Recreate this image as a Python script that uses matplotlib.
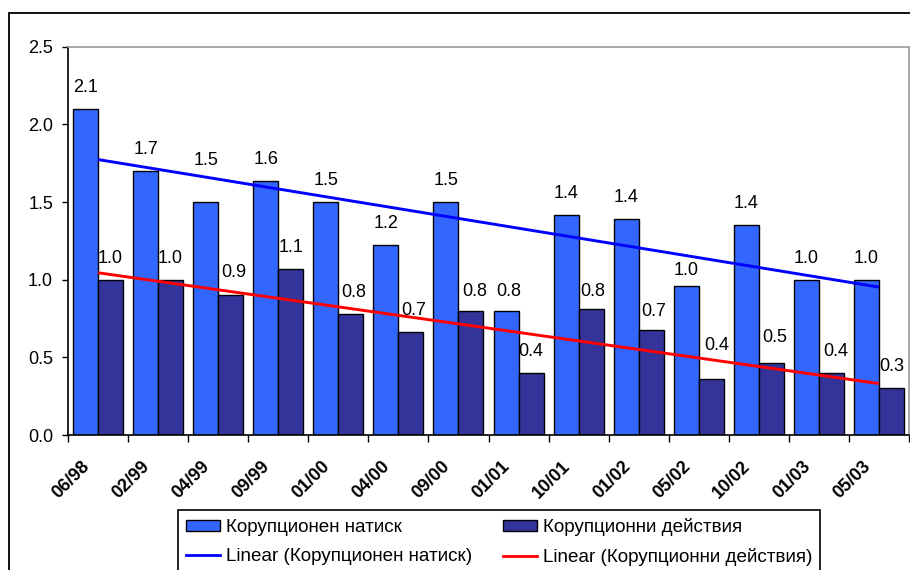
import numpy as np
import matplotlib
matplotlib.use("Agg")
import matplotlib.pyplot as plt
from matplotlib.patches import Rectangle, Patch
from matplotlib.lines import Line2D
import matplotlib.transforms as mtransforms

plt.rcParams['font.family'] = ['Liberation Sans', 'DejaVu Sans']

categories = ["06/98", "02/99", "04/99", "09/99", "01/00", "04/00", "09/00",
              "01/01", "10/01", "01/02", "05/02", "10/02", "01/03", "05/03"]
pressure = [2.10, 1.70, 1.50, 1.635, 1.50, 1.226, 1.50, 0.80, 1.418, 1.39, 0.96, 1.351, 1.00, 1.00]
actions = [1.00, 1.00, 0.90, 1.067, 0.78, 0.666, 0.80, 0.40, 0.81, 0.674, 0.363, 0.466, 0.40, 0.305]
name_p = "Корупционен натиск"
name_a = "Корупционни действия"

# manual nudges of some data labels (pixels: dx, dy upward), as in the original
nudge_p = {2: (0, 20), 7: (3, -2), 10: (0, -6)}
nudge_a = {2: (3, 1), 4: (3, 0), 5: (3, 0), 6: (4, -2), 8: (2, -4), 9: (3, -3),
           10: (6, 12), 11: (3, 4), 12: (4, 0)}

W, H = 910, 570
fig = plt.figure(figsize=(W / 100, H / 100), dpi=100)
ax = fig.add_axes([68 / W, 1 - 435 / H, (909 - 68) / W, (435 - 46.7) / H])

x = np.arange(len(categories))
bw = 0.416
c_p = "#3366FF"
c_a = "#333399"
ax.bar(x - bw / 2, pressure, bw, color=c_p, edgecolor="black", linewidth=1.0, zorder=2)
ax.bar(x + bw / 2, actions, bw, color=c_a, edgecolor="black", linewidth=1.0, zorder=2)

# linear trend lines (fitted to data)
xf = x + 1
kp = np.polyfit(xf, pressure, 1)
ka = np.polyfit(xf, actions, 1)
ax.plot(x, np.polyval(kp, xf), color="#0000FF", lw=2.1, zorder=3, solid_capstyle="butt")
ax.plot(x, np.polyval(ka, xf), color="#FF0000", lw=2.1, zorder=3, solid_capstyle="butt")

px = 0.72  # points per pixel at 100 dpi
for i, v in enumerate(pressure):
    dx, dy = nudge_p.get(i, (0, 0))
    ax.annotate(f"{v:.1f}", (x[i] - bw / 2, v), xytext=(dx * px, (21.5 + dy) * px),
                textcoords="offset points", ha="center", va="center", fontsize=13, zorder=4)
for i, v in enumerate(actions):
    dx, dy = nudge_a.get(i, (0, 0))
    ax.annotate(f"{v:.1f}", (x[i] + bw / 2, v), xytext=(dx * px, (21.5 + dy) * px),
                textcoords="offset points", ha="center", va="center", fontsize=13, zorder=4)

ax.set_xlim(-0.5, len(categories) - 0.5)
ax.set_ylim(0, 2.5)
ax.set_yticks(np.arange(0, 2.51, 0.5))
ax.set_yticklabels([f"{t:.1f}" for t in np.arange(0, 2.51, 0.5)], fontsize=13)
ax.tick_params(axis="y", direction="out", length=4, width=1, pad=6.8)

ax.set_xticks(x)
ax.set_xticklabels(categories, fontsize=13, fontweight="bold", rotation=45,
                   ha="right", va="center", rotation_mode="anchor")
ax.set_xticks(np.arange(-0.5, len(categories) - 0.4, 1), minor=True)
ax.tick_params(axis="x", which="major", length=0, pad=20.5)
ax.tick_params(axis="x", which="minor", direction="out", length=5, width=1)
offset = mtransforms.ScaledTranslation(-11 / 100, 0, fig.dpi_scale_trans)
for lab in ax.get_xticklabels():
    lab.set_transform(lab.get_transform() + offset)

for s in ["top", "right"]:
    ax.spines[s].set_color("#999999")
    ax.spines[s].set_linewidth(1.2)
for s in ["left", "bottom"]:
    ax.spines[s].set_color("black")
    ax.spines[s].set_linewidth(1.2)

handles = [Patch(facecolor=c_p, edgecolor="black", lw=1.0),
           Line2D([], [], color="#0000FF", lw=2.0),
           Patch(facecolor=c_a, edgecolor="black", lw=1.0),
           Line2D([], [], color="#FF0000", lw=2.0)]
labels = [name_p, "Linear (" + name_p + ")", name_a, "Linear (" + name_a + ")"]
leg = fig.legend(handles, labels, ncol=2, loc="upper left",
                 bbox_to_anchor=(178 / W, 1 - 510 / H), fontsize=13.6,
                 frameon=True, fancybox=False, edgecolor="black", framealpha=1,
                 handlelength=1.8, handleheight=0.5, handletextpad=0.32,
                 columnspacing=1.62, labelspacing=0.66, borderpad=0.42, borderaxespad=0)
leg.get_frame().set_linewidth(1.2)

fig.add_artist(Rectangle((9 / W, -0.2), 1.2, 1.2 + (1 - 12.5 / H) - 1, transform=fig.transFigure,
                         fill=False, edgecolor="black", lw=1.3))

fig.savefig("out.png", dpi=100, facecolor="white")
